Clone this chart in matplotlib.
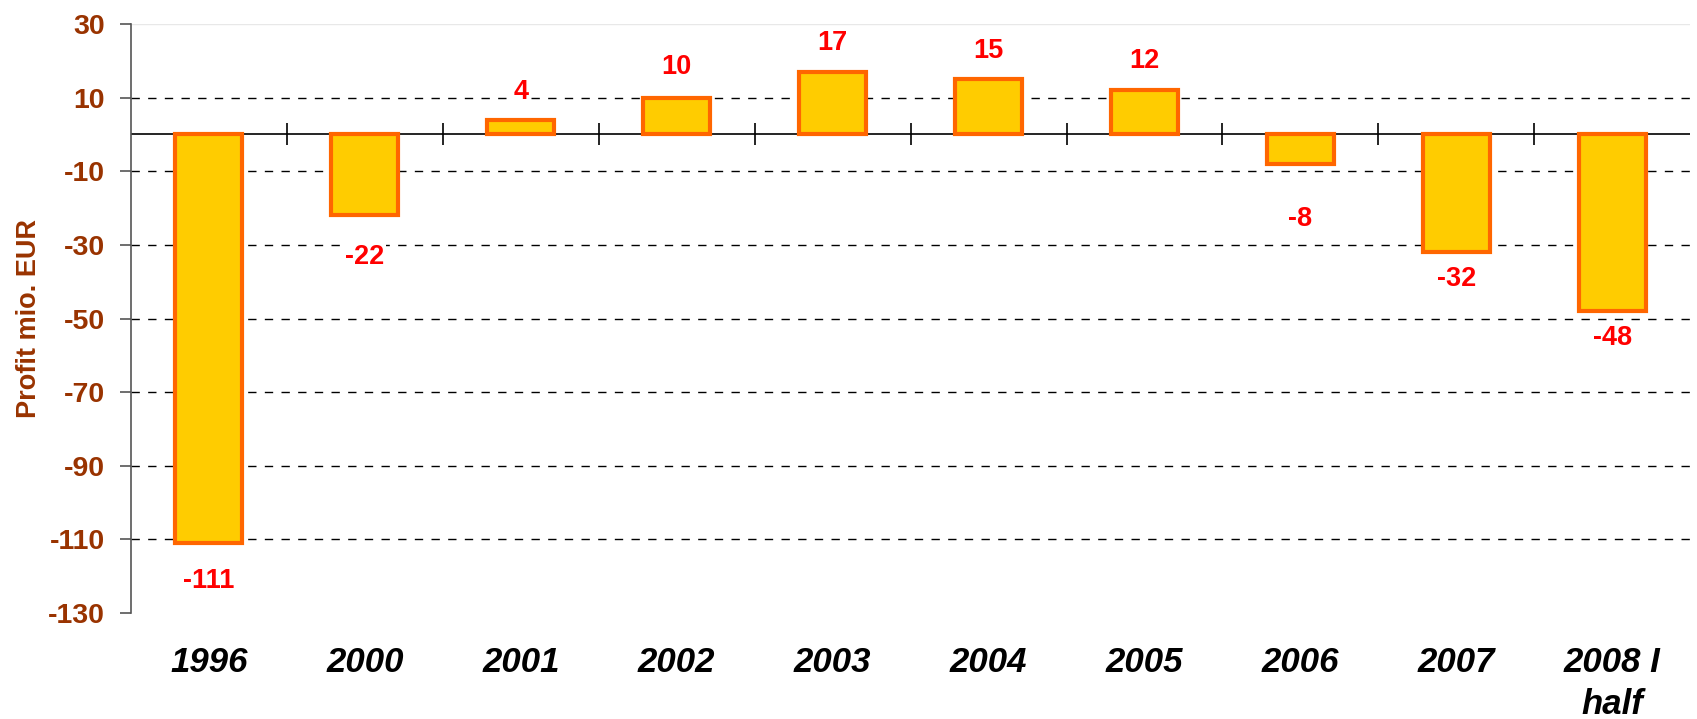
import matplotlib.pyplot as plt
import numpy as np

years = ['1996', '2000', '2001', '2002', '2003', '2004', '2005', '2006', '2007', '2008 I\nhalf']
profit = [-111, -22, 4, 10, 17, 15, 12, -8, -32, -48]

# label distance from the bar end, in points
label_pad = [27, 30, 20, 22, 21, 20, 21, 40, 19, 19]

plt.rcParams['font.family'] = ['Liberation Sans', 'DejaVu Sans']
plt.rcParams['axes.unicode_minus'] = False

fig = plt.figure(figsize=(16.97, 7.19), dpi=100)
ax = fig.add_axes([0.0772, 0.1474, 0.9188, 0.8192])

x = np.arange(len(years))
ax.bar(x, profit, width=0.43, color='#FFCC00', edgecolor='#FF6600', linewidth=3, zorder=3)

for xi, v, p in zip(x, profit, label_pad):
    off = p if v > 0 else -p
    ax.annotate(str(v), (xi, v), xytext=(0, off), textcoords='offset points',
                ha='center', va='center', color='#FF0000', fontsize=19.5, fontweight='bold',
                bbox=dict(facecolor='white', edgecolor='none', pad=1), zorder=4)

ax.set_xlim(-0.5, len(years) - 0.5)
ax.set_ylim(-130, 30)
ticks = np.arange(-130, 31, 20)
ax.set_yticks(ticks)
ax.tick_params(axis='y', length=8, width=1.2, color='#555555', pad=11,
               labelsize=20.5, labelcolor='#993300')
for lab in ax.get_yticklabels():
    lab.set_fontweight('bold')

# dashed grid
for t in ticks[1:-1]:
    ax.axhline(t, color='black', linestyle=(0, (6, 6)), linewidth=1, zorder=1)
ax.axhline(30, color='#e8e8e8', linewidth=1, zorder=1)

# zero line with category separators
ax.axhline(0, color='black', linewidth=1.2, zorder=2)
ax.vlines(x[:-1] + 0.5, -3, 3, color='black', linewidth=1.2, zorder=2)

ax.set_xticks(x)
ax.set_xticklabels(years, fontsize=25, fontweight='bold', fontstyle='italic', linespacing=1.35)
ax.tick_params(axis='x', length=0, pad=24)

for s in ['top', 'right', 'bottom']:
    ax.spines[s].set_visible(False)
ax.spines['left'].set_color('#555555')
ax.spines['left'].set_linewidth(1.2)

ax.set_ylabel('Profit mio. EUR', fontsize=19.5, fontweight='bold', color='#993300', labelpad=4)

fig.savefig('out.png', dpi=100)
